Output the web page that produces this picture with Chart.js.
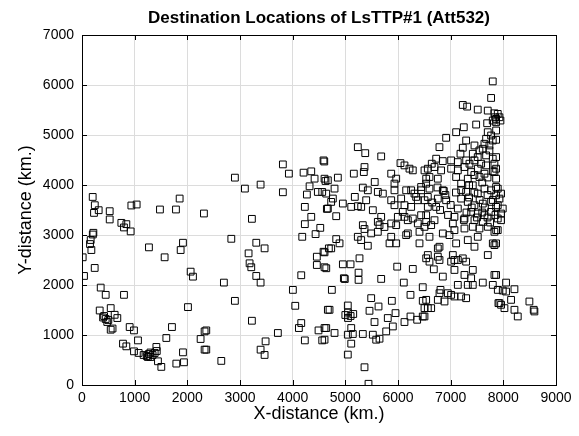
<!DOCTYPE html>
<html>
<head>
<meta charset="utf-8">
<script src="https://cdn.jsdelivr.net/npm/chart.js@4/dist/chart.umd.min.js"></script>
<style>
    html, body { margin: 0; padding: 0; background: #fff; }
    #wrap { width: 579px; height: 436px; }
</style>
</head>
<body>
<div id="wrap"><canvas id="destChart" width="579" height="436"></canvas></div>
<script>
// 目的地座標 (km) — 図から読み取った概算値
const westPoints = [
    [203,3761],[243,3596],[228,3442],[317,3496],[526,3476],[526,3311],[937,3590],[1038,3610],
    [1480,3510],[1784,3510],[1854,3729],[2315,3430],[747,3243],[842,3217],[797,3151],[924,3072],
    [216,3044],[205,3010],[165,2900],[152,2819],[178,2699],[13,2554],[38,2181],[241,2341],
    [1271,2753],[1569,2554],[1917,2845],[1873,2699],[2063,2267],[2107,2167],[355,1948],[450,1803],
    [797,1803],[336,1490],[545,1538],[620,1404],[671,1339],[420,1380],[450,1320],[480,1260],
    [400,1350],[500,1300],[545,1106],[580,1130],[905,1159],[987,1092],[1063,892],[778,827],
    [842,773],[987,673],[1076,641],[1170,600],[1230,580],[1270,620],[1300,560],[1340,600],
    [1380,640],[1420,680],[1300,650],[1250,560],[1412,761],[1442,474],[1506,362],[1708,1159],
    [1601,940],[2012,1558],[1917,653],[1936,454],[1791,428],[2252,920],[2328,1072],[2328,707]
];

const centralPoints = [
    [3814,4412],[3928,4227],[4207,4247],[4353,4273],[4586,4492],[4600,4470],[4416,4127],[4321,3974],
    [4270,3809],[4478,3861],[4561,3861],[4624,4080],[2903,4147],[3093,3928],[3391,4008],[3814,3855],
    [3226,3323],[4231,3562],[4353,3363],[4231,3217],[4649,3522],[4524,3143],[4435,3018],[4182,2964],
    [2835,2924],[3309,2845],[3467,2733],[3163,2633],[3182,2434],[3214,2355],[3309,2181],[3391,2048],
    [2694,2048],[4163,2195],[4004,1902],[4459,2566],[4586,2665],[4459,2400],[4605,2355],[4687,2733],
    [2903,1683],[2360,1092],[2360,707],[2645,482],[3226,1285],[3719,1040],[3486,873],[3391,707],
    [3467,601],[4049,1584],[4163,1239],[4118,1139],[4231,892],[4491,1092],[4605,1139],[4561,892],
    [4668,1504]
];

const midNorthPoints = [
    [5237,4757],[5378,4637],[5681,4572],[5364,4359],[5351,4259],[5161,4227],[4858,4147],[4668,4094],
    [5558,4060],[5871,4227],[6047,4438],[6123,4392],[6218,4327],[6281,4293],[5966,4127],[5933,4028],
    [6155,3894],[5332,3948],[5427,3894],[5617,3861],[5712,3828],[4795,3928],[4763,3729],[5180,3762],
    [4953,3629],[5112,3562],[5237,3576],[5301,3562],[4668,3530],[4827,3376],[5396,3695],[5522,3496],
    [5681,3363],[5617,3263],[5332,3197],[5649,3197],[5871,3231],[5966,3197],[6123,3363],[6281,3330],
    [6376,3231],[6503,3163],[5933,3894],[6060,3729],[6123,3596],[6250,3894],[6345,3762],[6440,3894],
    [6503,3695],[6566,3562],[5871,3695],[5933,3596],[6503,4292],[6535,4126],[6439,3960],[6313,3828],
    [6376,3695],[6250,3562],[6091,3462],[5997,3363],[6186,3296],[6439,3396],[6535,3263],[4605,4126],
    [4637,3828],[4731,3662],[5364,3120],[5743,3160]
];

const midSouthPoints = [
    [4827,2918],[4732,2733],[4890,2833],[4605,2653],[4953,2414],[5099,2414],[5269,2534],[5251,2247],
    [5251,2102],[4972,2135],[4990,2120],[4638,2335],[4744,1902],[4700,1504],[4637,1139],[4605,906],
    [4795,1040],[5047,1590],[5000,1400],[5050,1450],[5100,1380],[5150,1420],[5050,1340],[5112,1139],
    [5047,1006],[5142,1020],[5112,827],[5047,608],[5364,355],[5440,24],[5332,1020],[5522,1006],
    [5586,906],[5649,926],[5776,1072],[5902,1171],[5554,1259],[5459,1484],[5630,1570],[5491,1737],
    [5806,1339],[5953,1438],[6123,1259],[5883,1683],[6237,1803],[6470,1956],[6470,1683],[6503,1538],
    [6566,1538],[6237,1370],[6364,1305],[6470,1370],[6110,2048],[5985,2367],[6281,2321],[5681,2122],
    [5966,2833],[5839,2833],[6155,2998],[6408,2833],[6535,2534],[5427,2785],[5301,2898],[5237,2964],
    [5491,3032],[5617,3064],[5871,2964],[6186,3032],[6408,3064]
];

const eastNorthPoints = [
    [7799,6072],[7768,5741],[7230,5601],[7313,5568],[7514,5508],[7704,5488],[7831,5434],[7844,5355],
    [7799,5289],[7863,5255],[7693,5235],[7484,5209],[7249,5155],[7104,5056],[7704,5056],[7768,4990],
    [7673,4924],[7799,4890],[7736,4791],[7641,4825],[7609,4725],[7546,4691],[7452,4791],[7420,4625],
    [7514,4558],[7673,4592],[7736,4691],[7799,4526],[7831,4426],[7294,4890],[7230,4745],[7186,4625],
    [6914,4944],[6787,4757],[6725,4526],[6850,4478],[7009,4492],[7135,4458],[7294,4492],[7357,4426],
    [7452,4492],[7579,4426],[7673,4392],[6641,4426],[7894,5422],[7945,5289],[7863,5322],[7926,5355],
    [7863,5090],[7863,4904],[7863,4558],[7863,4326]
];

const eastMidPoints = [
    [6566,4326],[6693,4359],[6819,4292],[7009,4326],[7136,4292],[7262,4359],[7389,4259],[7515,4326],
    [7642,4226],[7800,4272],[6598,4160],[6756,4126],[7104,4160],[7325,4126],[7547,4160],[7863,4126],
    [6851,3894],[6870,3880],[6598,3927],[6535,4027],[7199,4027],[7420,3994],[7642,3927],[7768,3894],
    [7863,3960],[7294,3861],[7515,3828],[6566,3761],[6756,3728],[6914,3695],[7199,3728],[7325,3662],
    [7452,3595],[7610,3628],[7768,3662],[7863,3562],[6724,3562],[7136,3529],[7389,3462],[7515,3429],
    [7642,3396],[7768,3462],[7452,3296],[7610,3263],[7262,3330],[7072,3363],[6535,3396],[6693,3296],
    [7041,3230],[6630,3197],[7420,3164],[7547,3130],[7705,3164],[7863,3097],[7262,3130],[7072,3097],
    [6851,3031],[6977,2998],[7515,2964],[7831,3064],[6598,2964],[7104,2832],[7325,2898],[7452,2765],
    [6788,2765],[6756,2732],[7800,2832],[7831,2798],[6566,2599],[6756,2566],[7041,2599],[7230,2533],
    [7705,2599],[7072,2500],[7350,3750],[7450,3850],[7550,3700],[7650,3550],[7700,3800],[7400,3550],
    [7500,3350],[7600,3450],[7300,3450],[7250,3300],[7700,3350],[7750,3250],[7800,3700],[7850,3400],
    [7350,4000],[7600,4050],[7450,4200],[7700,4150],[7200,3900],[7100,3850],[6900,3800],[6750,3950],
    [6650,3650],[6800,3500],[6950,3400],[7000,3600],[7831,4259],[7894,3927],[7957,3828],[7863,3794],
    [7926,3728],[7894,3595],[7989,3529],[7957,3429],[7894,3330],[7957,3296],[7894,3097],[7863,2832]
];

const eastSouthPoints = [
    [6598,2467],[6788,2500],[7009,2467],[7136,2500],[7294,2467],[7420,2301],[6680,2314],[6851,2168],
    [7072,2301],[7262,2201],[7389,2135],[7325,2002],[7420,2002],[7136,2002],[7610,2048],[7831,2201],
    [7800,2002],[7895,1902],[7907,1637],[6807,1902],[6788,1836],[6946,1836],[7009,1803],[7072,1770],
    [7199,1770],[7294,1736],[6756,1703],[6883,1670],[6630,1537],[6535,1703],[6503,1371],[7863,2201],
    [8052,2048],[8211,1916],[8052,1869],[7989,1889],[7926,1637],[7957,1604],[8021,1537],[8147,1703],
    [8211,1504],[8274,1371],[8495,1670],[8577,1504],[8590,1471]
];

// 軸目盛
const xTicks = [0, 1000, 2000, 3000, 4000, 5000, 6000, 7000, 8000, 9000];
const yTicks = [0, 1000, 2000, 3000, 4000, 5000, 6000, 7000];

const FONT = "'Liberation Sans', Arial, Helvetica, sans-serif";

// タイトルをプロット領域の中央に揃える
const titleAlignPlugin = {
    id: 'titleAlignPlugin',
    afterLayout(chart) {
        if (chart.titleBlock) {
            chart.titleBlock.left = chart.chartArea.left;
            chart.titleBlock.right = chart.chartArea.right;
        }
    }
};

// 外枠と内向きの目盛り線 (MATLAB風)
const boxPlugin = {
    id: 'boxPlugin',
    afterDatasetsDraw(chart) {
        const { ctx, chartArea: a, scales } = chart;
        ctx.save();
        ctx.strokeStyle = '#000';
        ctx.lineWidth = 1;
        ctx.strokeRect(Math.round(a.left) + 0.5, Math.round(a.top) + 0.5,
            Math.round(a.right - a.left), Math.round(a.bottom - a.top));
        ctx.beginPath();
        const len = 5;
        xTicks.forEach(v => {
            const px = Math.round(scales.x.getPixelForValue(v)) + 0.5;
            ctx.moveTo(px, a.bottom); ctx.lineTo(px, a.bottom - len);
            ctx.moveTo(px, a.top); ctx.lineTo(px, a.top + len);
        });
        yTicks.forEach(v => {
            const py = Math.round(scales.y.getPixelForValue(v)) + 0.5;
            ctx.moveTo(a.left, py); ctx.lineTo(a.left + len, py);
            ctx.moveTo(a.right, py); ctx.lineTo(a.right - len, py);
        });
        ctx.stroke();
        ctx.restore();
    }
};

function drawDestChart() {
    const allPoints = [].concat(westPoints, centralPoints, midNorthPoints,
        midSouthPoints, eastNorthPoints, eastMidPoints, eastSouthPoints);

    const ctx = document.getElementById('destChart').getContext('2d');
    new Chart(ctx, {
        type: 'scatter',
        data: {
            datasets: [{
                label: 'Destinations',
                data: allPoints.map(p => ({ x: p[0], y: p[1] })),
                pointStyle: 'rect',
                pointRadius: 4.8,
                borderColor: '#000',
                borderWidth: 1,
                backgroundColor: 'rgba(0,0,0,0)'
            }]
        },
        options: {
            responsive: false,
            animation: false,
            layout: { padding: { left: 0, right: 23, top: 0, bottom: 0 } },
            plugins: {
                legend: { display: false },
                tooltip: { enabled: false },
                title: {
                    display: true,
                    text: 'Destination Locations of LsTTP#1 (Att532)',
                    color: '#000',
                    font: { family: FONT, size: 17, weight: 'bold' },
                    padding: { top: 8.5, bottom: 6.1 }
                }
            },
            scales: {
                x: {
                    type: 'linear',
                    min: 0, max: 9000,
                    afterBuildTicks: (s) => { s.ticks = xTicks.map(v => ({ value: v })); },
                    afterFit: (s) => { s.height = 51; },
                    grid: { color: '#dcdcdc', drawTicks: false },
                    border: { display: false },
                    ticks: { color: '#000', padding: 5, maxRotation: 0,
                        font: { family: FONT, size: 14 },
                        callback: (v) => String(v) },
                    title: { display: true, text: 'X-distance (km.)', color: '#000',
                        font: { family: FONT, size: 18 }, padding: { top: 0, bottom: 11 } }
                },
                y: {
                    type: 'linear',
                    min: 0, max: 7000,
                    afterBuildTicks: (s) => { s.ticks = yTicks.map(v => ({ value: v })); },
                    afterFit: (s) => { s.width = 82; },
                    grid: { color: '#dcdcdc', drawTicks: false },
                    border: { display: false },
                    ticks: { color: '#000', padding: 8,
                        font: { family: FONT, size: 14 },
                        callback: (v) => String(v) },
                    title: { display: true, text: 'Y-distance (km.)', color: '#000',
                        font: { family: FONT, size: 18 }, padding: { top: 15, bottom: 0 } }
                }
            }
        },
        plugins: [titleAlignPlugin, boxPlugin]
    });
}

document.addEventListener('DOMContentLoaded', drawDestChart);
</script>
</body>
</html>
